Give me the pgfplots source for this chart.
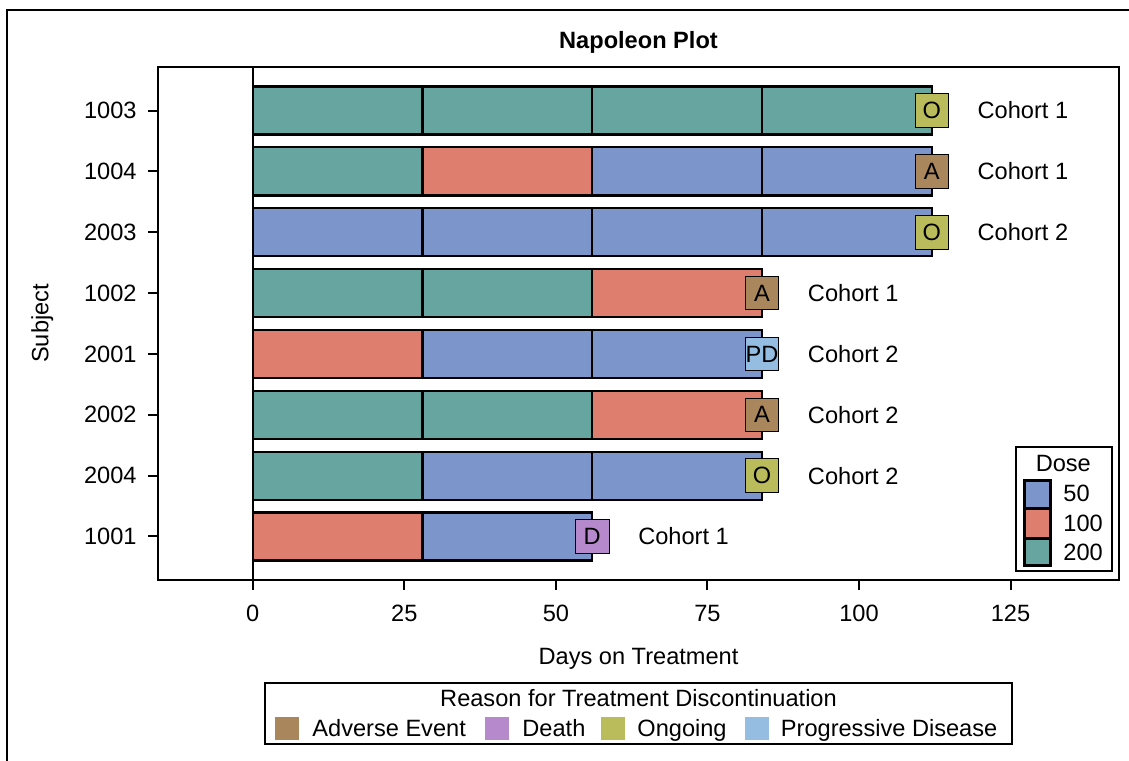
\documentclass[border=0pt]{standalone}
\usepackage{pgfplots}
\pgfplotsset{compat=1.18}
\usepackage{fontspec}
\setmainfont{Liberation Sans}
\setsansfont{Liberation Sans}
\newcommand\fs{\fontsize{11.8}{14}\selectfont}

% dose colours
\definecolor{dFifty}{HTML}{7C95CA}
\definecolor{dHundred}{HTML}{DE7E6F}
\definecolor{dTwoHundred}{HTML}{66A5A0}
% discontinuation reasons
\definecolor{rAE}{HTML}{A9865B}
\definecolor{rDeath}{HTML}{B689CD}
\definecolor{rOngoing}{HTML}{BABC5C}
\definecolor{rPD}{HTML}{94BDE1}

\pgfplotsset{
  seg/.style={xbar, bar width=0.79, bar shift=0pt, draw=black,
    line width=1.1pt, fill=#1, forget plot},
  reason/.style={only marks, mark=square*, mark size=8.4pt,
    mark options={draw=none, fill=#1},
    nodes near coords, point meta=explicit symbolic,
    every node near coord/.append style={anchor=center, text=black,
      font=\fs, inner sep=0pt}},
}

\begin{document}
\fs
\begin{tikzpicture}
\begin{scope}[x=0.5pt,y=-0.5pt]
  \useasboundingbox (0,0) rectangle (1129,760);
  \draw[line width=1pt] (7,10) rectangle (1160,800);
\end{scope}

\begin{axis}[
  at={(79pt,-290pt)}, anchor=south west,
  scale only axis, width=480.5pt, height=256.5pt,
  xmin=-15.64, xmax=142.9, ymin=0.285, ymax=8.715,
  xtick={0,25,...,125}, ytick={1,...,8},
  yticklabels={1001,2004,2002,2001,1002,2003,1004,1003},
  tick align=outside, major tick length=5pt,
  xtick pos=left, ytick pos=left,
  axis line style={line width=1pt},
  every tick/.style={black, line width=1pt},
  /pgf/number format/assume math mode=true,
  tick label style={font=\fs},
  xticklabel style={anchor=base, yshift=-15.5pt},
  yticklabel style={anchor=east, inner sep=0pt, xshift=-5.5pt},
  label style={font=\fs},
  title={Napoleon Plot},
  every axis title shift=0pt,
  title style={at={(axis description cs:0.5,1.037)}, anchor=base, font=\fs\bfseries},
  xlabel={Days on Treatment},
  xlabel style={at={(axis description cs:0.5,-0.1647)}, anchor=base},
  ylabel={Subject},
  ylabel style={at={(axis description cs:-0.114,0.5)}, anchor=base},
  clip=false,
]
% reference line at day 0
\addplot[black, line width=0.7pt, forget plot] coordinates {(0,0.285) (0,8.715)};

% dosing periods: bar ends at 112, 84, 56, 28 days, longest drawn first
\addplot[seg=dTwoHundred] coordinates {(112,8)};
\addplot[seg=dFifty]      coordinates {(112,7) (112,6)};

\addplot[seg=dTwoHundred] coordinates {(84,8)};
\addplot[seg=dFifty]      coordinates {(84,7) (84,6) (84,4) (84,2)};
\addplot[seg=dHundred]    coordinates {(84,5) (84,3)};

\addplot[seg=dTwoHundred] coordinates {(56,8) (56,5) (56,3)};
\addplot[seg=dHundred]    coordinates {(56,7)};
\addplot[seg=dFifty]      coordinates {(56,6) (56,4) (56,2) (56,1)};

\addplot[seg=dTwoHundred] coordinates {(28,8) (28,7) (28,5) (28,3) (28,2)};
\addplot[seg=dFifty]      coordinates {(28,6)};
\addplot[seg=dHundred]    coordinates {(28,4) (28,1)};

% discontinuation reason at the last day
\addplot[reason=rOngoing] coordinates {(112,8) [O] (112,6) [O] (84,2) [O]};
\addplot[reason=rAE]      coordinates {(112,7) [A] (84,5) [A] (84,3) [A]};
\addplot[reason=rPD]      coordinates {(84,4) [PD]};
\addplot[reason=rDeath]   coordinates {(56,1) [D]};

% cohort labels
\addplot[only marks, mark=*, mark size=0pt, mark options={draw=none, fill=none},
  nodes near coords, point meta=explicit symbolic,
  every node near coord/.append style={anchor=west, inner sep=0pt,
    xshift=22.8pt, font=\fs, text=black}]
  coordinates {(112,8) [Cohort 1] (112,7) [Cohort 1] (112,6) [Cohort 2]
               (84,5) [Cohort 1] (84,4) [Cohort 2] (84,3) [Cohort 2]
               (84,2) [Cohort 2] (56,1) [Cohort 1]};
\end{axis}

\begin{scope}[x=0.5pt,y=-0.5pt]
  % dose legend
  \draw[line width=1pt, fill=white] (1016,447.3) rectangle (1111.7,570.7);
  \node[anchor=base, inner sep=0pt] at (1063.3,471.7) {Dose};
  \draw[line width=1.5pt, fill=dFifty]      (1024.5,480.8) rectangle (1050.5,508.3);
  \draw[line width=1.5pt, fill=dHundred]    (1024.5,508.3) rectangle (1050.5,538);
  \draw[line width=1.5pt, fill=dTwoHundred] (1024.5,538)   rectangle (1050.5,565.8);
  \node[anchor=base west, inner sep=0pt] at (1063,501)   {50};
  \node[anchor=base west, inner sep=0pt] at (1063,531.7) {100};
  \node[anchor=base west, inner sep=0pt] at (1063,560.7) {200};

  % reason legend
  \draw[line width=1pt] (265,683) rectangle (1012,744);
  \node[anchor=base, inner sep=0pt] at (638.5,706.7) {Reason for Treatment Discontinuation};
  \fill[rAE]      (275,717) rectangle (299,740);
  \fill[rDeath]   (485,717) rectangle (509,740);
  \fill[rOngoing] (601,717) rectangle (625,740);
  \fill[rPD]      (745,717) rectangle (769,740);
  \node[anchor=base west, inner sep=0pt] at (312,736.7)   {Adverse Event};
  \node[anchor=base west, inner sep=0pt] at (522,736.7)   {Death};
  \node[anchor=base west, inner sep=0pt] at (637,736.7)   {Ongoing};
  \node[anchor=base west, inner sep=0pt] at (780.5,736.7) {Progressive Disease};
\end{scope}
\end{tikzpicture}
\end{document}
